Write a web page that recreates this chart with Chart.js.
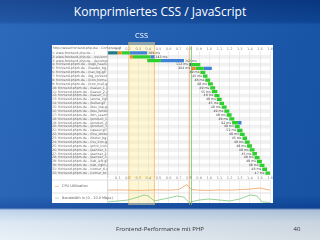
<!DOCTYPE html>
<html>
<head>
<meta charset="utf-8">
<script src="https://cdn.jsdelivr.net/npm/chart.js@4"></script>
<style>
  body { margin: 0; width: 320px; height: 240px; overflow: hidden; position: relative; font-family: "Open Sans", sans-serif; }
  #slide { position: absolute; left: 0; top: 0; width: 320px; height: 240px;
    background: linear-gradient(90deg, rgba(255,255,255,0.08), rgba(0,0,0,0.08)),
      linear-gradient(180deg, #0a3a8a 0px, #0f4a9f 22px, #1b5cb4 25px, #1858b0 195px, #0e489f 208px, #b7cfe9 210px, #d9e6f3 222px, #e8f0f8 240px); }
  #title { position: absolute; left: 0; top: 1px; width: 320px; text-align: center; color: #fff; font-size: 12px; line-height: 22px; }
  #box { position: absolute; left: 52px; top: 45px; width: 221px; height: 158px; background: #fff; }
  #wf { position: absolute; left: 52px; top: 30px; }
  #perf { position: absolute; left: 52px; top: 176px; }
  #foot { position: absolute; left: 0; top: 224px; width: 320px; text-align: center; color: #333; font-size: 6px; line-height: 10px; }
  #page { position: absolute; left: 290px; top: 224px; width: 14px; text-align: center; color: #333; font-size: 6px; line-height: 10px; }
</style>
</head>
<body>
<div id="slide"></div>
<div id="title">Komprimiertes CSS / JavaScript</div>
<div id="box"></div>
<canvas id="wf" width="221" height="148"></canvas>
<canvas id="perf" width="221" height="32"></canvas>
<div id="foot">Frontend-Performance mit PHP</div>
<div id="page">40</div>
<script>
// request rows (top to bottom)
const rowLabels = [
  "1: www.frontend-php.de - /",
  "2: www.frontend-php.de - /css/compressed.css",
  "3: www.frontend-php.de - /js/compressed.js",
  "4: frontend.phpm.de - /logo_head.gif",
  "5: frontend.phpm.de - /header_bg.jpg",
  "6: frontend.phpm.de - /nav_bg.gif",
  "7: frontend.phpm.de - /bg_content.gif",
  "8: frontend.phpm.de - /icon_home.gif",
  "9: frontend.phpm.de - /icon_mail.gif",
  "10: frontend.phpm.de - /teaser_1.jpg",
  "11: frontend.phpm.de - /teaser_2.jpg",
  "12: frontend.phpm.de - /teaser_3.jpg",
  "13: frontend.phpm.de - /arrow_right.gif",
  "14: frontend.phpm.de - /bullet.gif",
  "15: frontend.phpm.de - /box_top.gif",
  "16: frontend.phpm.de - /box_bottom.gif",
  "17: frontend.phpm.de - /btn_search.gif",
  "18: frontend.phpm.de - /product_1.jpg",
  "19: frontend.phpm.de - /product_2.jpg",
  "20: frontend.phpm.de - /product_3.jpg",
  "21: frontend.phpm.de - /spacer.gif",
  "22: frontend.phpm.de - /line_dotted.gif",
  "23: frontend.phpm.de - /footer_bg.gif",
  "24: frontend.phpm.de - /rss_icon.gif",
  "25: frontend.phpm.de - /print_icon.gif",
  "26: frontend.phpm.de - /partner_1.gif",
  "27: frontend.phpm.de - /partner_2.gif",
  "28: frontend.phpm.de - /partner_3.gif",
  "29: frontend.phpm.de - /tab_left.gif",
  "30: frontend.phpm.de - /tab_right.gif",
  "31: frontend.phpm.de - /corner_tl.gif",
  "32: frontend.phpm.de - /corner_br.gif"
];

// phase timings in seconds, [start, end] per row
const dnsTimes = [[0, 0.097], null, null, [0.80, 0.821]];
const connectTimes = [[0.097, 0.136], [0.217, 0.249], null, null, [0.821, 0.864]];
const ttfbTimes = [
  [0.136, 0.217], [0.249, 0.421], [0.389, 0.525], [0.821, 0.912], [0.864, 0.945],
  [0.912, 0.961], [0.938, 0.983], [0.961, 1.009], [0.987, 1.035], [1.009, 1.058],
  [1.025, 1.080], [1.051, 1.100], [1.074, 1.122], [1.100, 1.145], [1.122, 1.171],
  [1.148, 1.197], [1.171, 1.220], [1.197, 1.246], [1.225, 1.284], [1.252, 1.300],
  [1.275, 1.327], [1.301, 1.349], [1.327, 1.372], [1.349, 1.398], [1.372, 1.420],
  [1.398, 1.446], [1.424, 1.469], [1.446, 1.495], [1.469, 1.518], [1.495, 1.543],
  [1.521, 1.569], [1.553, 1.600]
];
const downloadTimes = [[0.217, 0.389], [0.421, 0.460], [0.525, 0.751], null, [0.945, 1.025],
  null, null, null, null, null, null, null, null, null, null, null, null, null, [1.284, 1.317]];

// markers
const cssRange = [0.207, 0.46];
const orangeMark = 0.806;
const greenMark = 0.825;

// bottom graphs
const cpuTimes = [0, 0.1, 0.2, 0.3, 0.4, 0.5, 0.6, 0.7, 0.78, 0.8, 0.83, 0.9, 1.0, 1.1, 1.2, 1.3, 1.4, 1.5, 1.6];
const cpuValues = [22, 24, 22, 20, 22, 24, 22, 26, 65, 45, 26, 22, 20, 24, 22, 26, 30, 38, 22];
const bwTimes = [0, 0.1, 0.2, 0.3, 0.36, 0.4, 0.46, 0.5, 0.6, 0.68, 0.75, 0.8, 0.9, 1.0, 1.1, 1.2, 1.3, 1.4, 1.47, 1.52, 1.6];
const bwValues = [1, 2, 3, 6, 8, 7, 2, 3, 5, 7, 6, 0.5, 3, 4, 3, 2, 4, 8, 7, 1, 0.5];

const xMax = 1.6;
const leftCol = 55.7;

const tickOpts = {
  stepSize: 0.1, autoSkip: false, maxRotation: 0, padding: 0,
  color: '#888', font: { size: 3.5, family: 'DejaVu Sans' },
  callback: v => v === 0 ? '' : v.toFixed(1)
};

function drawBand(chart, top, bottom) {
  const ctx = chart.ctx, x = chart.scales.x;
  const a = x.getPixelForValue(cssRange[0]), b = x.getPixelForValue(cssRange[1]);
  ctx.save();
  ctx.fillStyle = 'rgba(255,238,160,0.45)';
  ctx.fillRect(a, top, b - a, bottom - top);
  ctx.strokeStyle = 'rgba(240,170,70,0.8)';
  ctx.lineWidth = 0.8;
  ctx.beginPath();
  ctx.moveTo(a, top); ctx.lineTo(a, bottom);
  ctx.moveTo(b, top); ctx.lineTo(b, bottom);
  ctx.stroke();
  ctx.restore();
}

function drawMarks(chart, top, bottom) {
  const ctx = chart.ctx, x = chart.scales.x;
  ctx.save();
  ctx.lineWidth = 0.8;
  ctx.strokeStyle = 'rgba(240,160,80,0.8)';
  ctx.beginPath();
  ctx.moveTo(x.getPixelForValue(orangeMark), top);
  ctx.lineTo(x.getPixelForValue(orangeMark), bottom);
  ctx.stroke();
  ctx.strokeStyle = 'rgba(110,190,90,0.9)';
  ctx.beginPath();
  ctx.moveTo(x.getPixelForValue(greenMark), top);
  ctx.lineTo(x.getPixelForValue(greenMark), bottom);
  ctx.stroke();
  ctx.restore();
}

// stripes, band, labels, durations
const wfDecor = {
  id: 'wfDecor',
  beforeDraw(chart) {
    const ctx = chart.ctx, area = chart.chartArea, y = chart.scales.y;
    const h = (area.bottom - area.top) / rowLabels.length;
    ctx.save();
    rowLabels.forEach((l, i) => {
      if (i % 2 === 0) return;
      ctx.fillStyle = '#f1f1f1';
      ctx.fillRect(0, y.getPixelForValue(i) - h / 2, area.right, h);
    });
    ctx.restore();
    drawBand(chart, 12, chart.height);
    // "CSS" label
    ctx.save();
    ctx.fillStyle = '#fff';
    ctx.font = '7.5px "Open Sans"';
    ctx.textAlign = 'center';
    ctx.textBaseline = 'middle';
    ctx.fillText('CSS', chart.scales.x.getPixelForValue((cssRange[0] + cssRange[1]) / 2), 6);
    ctx.restore();
  },
  afterDatasetsDraw(chart) {
    const ctx = chart.ctx, area = chart.chartArea, x = chart.scales.x, y = chart.scales.y;
    drawMarks(chart, area.top - 5, chart.height);
    ctx.save();
    ctx.strokeStyle = '#bbb';
    ctx.lineWidth = 0.6;
    ctx.beginPath();
    ctx.moveTo(area.left, 15); ctx.lineTo(area.left, chart.height);
    ctx.stroke();
    ctx.fillStyle = '#666';
    ctx.font = '3.2px "DejaVu Sans"';
    ctx.textBaseline = 'middle';
    ctx.fillText('http://www.frontend-php.de/ - Compressed', 1, area.top - 2.5);
    ctx.fillStyle = '#444';
    rowLabels.forEach((l, i) => {
      const parts = [dnsTimes[i], connectTimes[i], ttfbTimes[i], downloadTimes[i]].filter(Boolean);
      const start = Math.min(...parts.map(p => p[0]));
      const end = Math.max(...parts.map(p => p[1]));
      const txt = Math.round((end - start) * 1000) + ' ms';
      const py = y.getPixelForValue(i);
      if (start < 0.5) {
        ctx.textAlign = 'left';
        ctx.fillText(txt, x.getPixelForValue(end) + 1, py);
      } else {
        ctx.textAlign = 'right';
        ctx.fillText(txt, x.getPixelForValue(start) - 1, py);
      }
    });
    ctx.restore();
  }
};

const barCommon = { grouped: false, barPercentage: 0.85, categoryPercentage: 1, borderWidth: 0 };

new Chart(document.getElementById('wf'), {
  type: 'bar',
  data: {
    labels: rowLabels,
    datasets: [
      { label: 'DNS', data: dnsTimes, backgroundColor: '#1e7c86', ...barCommon },
      { label: 'Connect', data: connectTimes, backgroundColor: '#f08a2a', ...barCommon },
      { label: 'TTFB', data: ttfbTimes, backgroundColor: '#2fcf2f', ...barCommon },
      { label: 'Download', data: downloadTimes, backgroundColor: '#3f82d8', ...barCommon }
    ]
  },
  options: {
    indexAxis: 'y',
    responsive: false,
    animation: false,
    layout: { padding: { top: 16, bottom: 2, left: 0, right: 0.5 } },
    plugins: { legend: { display: false }, tooltip: { enabled: false } },
    scales: {
      x: {
        type: 'linear', position: 'top', min: 0, max: xMax,
        ticks: tickOpts,
        grid: { color: '#e0e0e0', lineWidth: 0.6, drawTicks: false },
        border: { display: false },
        afterFit: s => { s.height = 5; }
      },
      y: {
        ticks: { autoSkip: false, crossAlign: 'far', padding: 1, color: '#666', font: { size: 3.2, family: 'DejaVu Sans' } },
        grid: { display: false },
        border: { display: false },
        afterFit: s => { s.width = leftCol; }
      }
    }
  },
  plugins: [wfDecor]
});

// bottom cpu / bandwidth graph
const perfDecor = {
  id: 'perfDecor',
  beforeDraw(chart) {
    drawBand(chart, 0, 29);
  },
  afterDatasetsDraw(chart) {
    const ctx = chart.ctx, area = chart.chartArea;
    const sep = chart.scales.yBw.getPixelForValue(10);
    drawMarks(chart, 0, 29);
    ctx.save();
    ctx.strokeStyle = '#ccc';
    ctx.lineWidth = 0.6;
    ctx.beginPath();
    ctx.moveTo(0, sep); ctx.lineTo(area.right, sep);
    ctx.moveTo(0, area.top); ctx.lineTo(area.right, area.top);
    ctx.moveTo(area.left, 0); ctx.lineTo(area.left, area.bottom);
    ctx.stroke();
    ctx.font = '3.5px "DejaVu Sans"';
    ctx.textBaseline = 'middle';
    const rows = [
      ['CPU Utilization', '#f0a060', (area.top + sep) / 2],
      ['Bandwidth In (0 - 10.0 Mbps)', '#7cc77c', (sep + area.bottom) / 2]
    ];
    rows.forEach(([t, c, py]) => {
      ctx.strokeStyle = c;
      ctx.beginPath();
      ctx.moveTo(3, py); ctx.lineTo(7, py);
      ctx.stroke();
      ctx.fillStyle = '#666';
      ctx.fillText(t, 10, py);
    });
    ctx.restore();
  }
};

new Chart(document.getElementById('perf'), {
  type: 'line',
  data: {
    datasets: [
      { label: 'CPU', data: cpuTimes.map((t, i) => ({ x: t, y: cpuValues[i] })), yAxisID: 'yCpu',
        borderColor: '#f0a060', borderWidth: 0.8, pointRadius: 0 },
      { label: 'Bandwidth', data: bwTimes.map((t, i) => ({ x: t, y: bwValues[i] })), yAxisID: 'yBw',
        borderColor: '#7cc77c', borderWidth: 0.8, pointRadius: 0 }
    ]
  },
  options: {
    responsive: false,
    animation: false,
    layout: { padding: { top: 0, bottom: 5, left: leftCol, right: 0.5 } },
    plugins: { legend: { display: false }, tooltip: { enabled: false } },
    scales: {
      x: {
        type: 'linear', position: 'top', min: 0, max: xMax,
        ticks: tickOpts,
        grid: { color: '#e0e0e0', lineWidth: 0.6, drawTicks: false },
        border: { display: false },
        afterFit: s => { s.height = 4; }
      },
      yCpu: { display: false, min: -77, max: 100 },
      yBw: { display: false, min: 0, max: 23 }
    }
  },
  plugins: [perfDecor]
});
</script>
</body>
</html>
